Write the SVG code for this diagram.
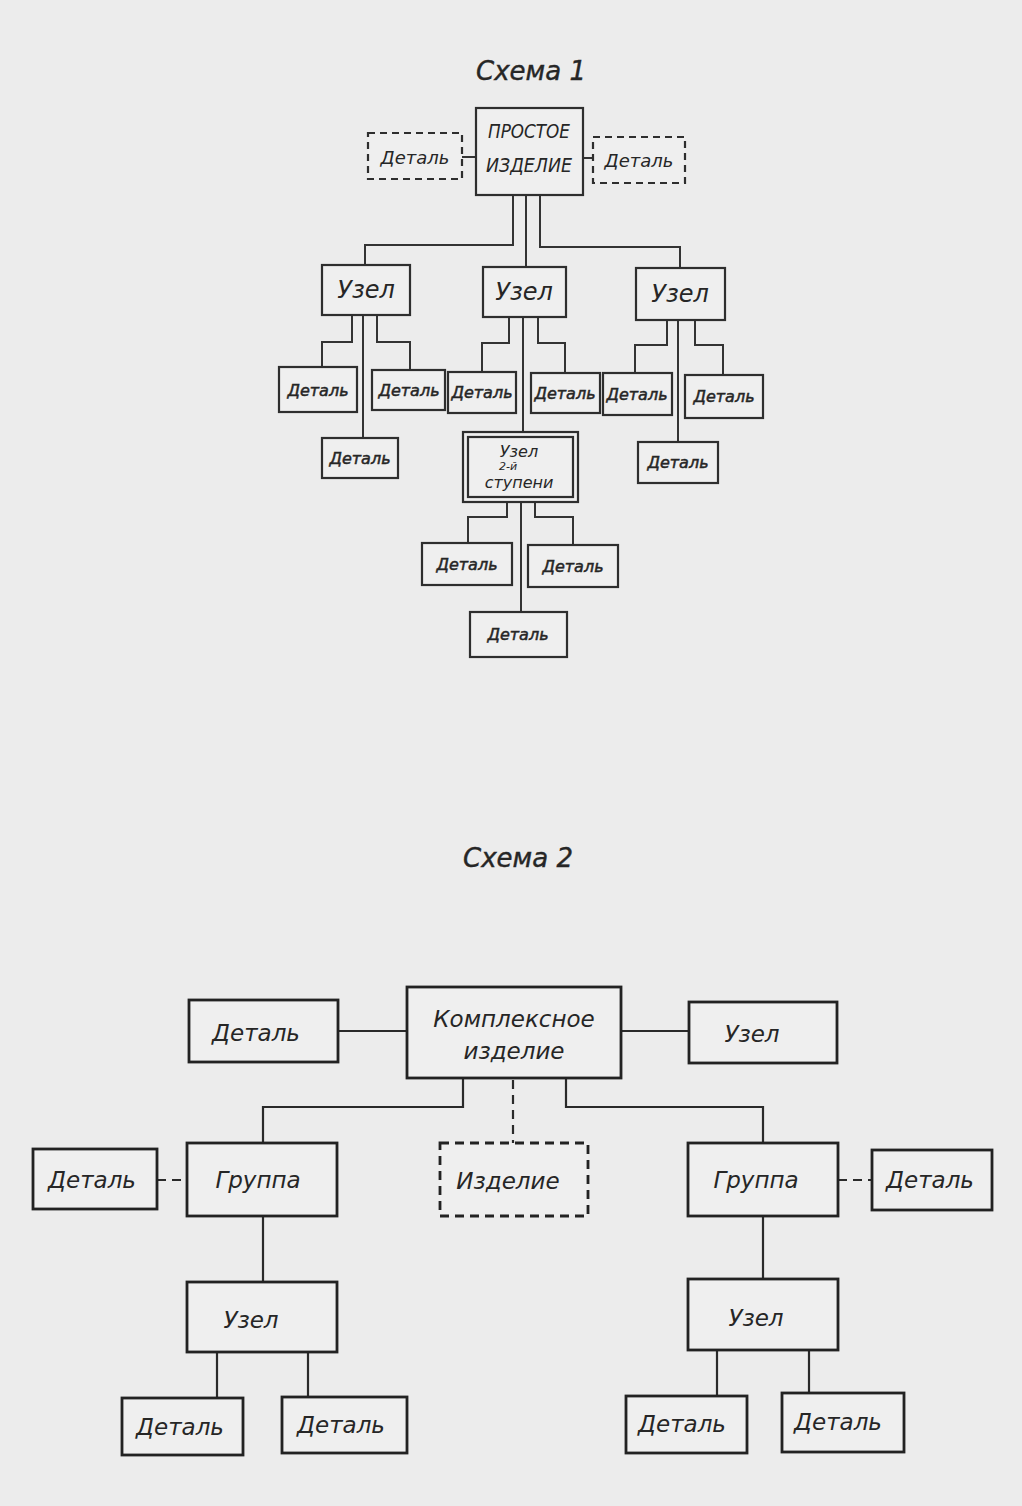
<svg xmlns="http://www.w3.org/2000/svg" width="1022" height="1506" viewBox="0 0 1022 1506">
<style>
.bg{fill:#ececec}
.b1{fill:#efefef;stroke:#2e2e2e;stroke-width:2.2}
.b2{fill:#efefef;stroke:#222;stroke-width:2.8}
.dash1{stroke-dasharray:7 5}
.dash2{stroke-dasharray:9 6}
.c1{fill:none;stroke:#333;stroke-width:2}
.c2{fill:none;stroke:#2a2a2a;stroke-width:2.2}
text{font-family:"DejaVu Sans","Liberation Sans",sans-serif;font-style:italic;fill:#262626;text-anchor:middle;dominant-baseline:central}
.t{font-size:26px;stroke:#262626;stroke-width:0.4}
.s1{font-size:16px;stroke:#262626;stroke-width:0.5}
.s1b{font-size:18px}
.u1{font-size:24px}
.s2{font-size:23px}
</style>
<rect class="bg" x="0" y="0" width="1022" height="1506"/>
<text class="t" x="531" y="71">Схема 1</text>
<text class="t" x="518" y="858">Схема 2</text>
<g id="connectors">
<path class="c1" d="M462,157 H476 M583,158 H593"/>
<path class="c1" d="M513,195 V245 H365 V265 M526,195 V267 M540,195 V247 H680 V268"/>
<path class="c1" d="M352,315 V342 H322 V367 M377,315 V342 H410 V370 M363,315 V438"/>
<path class="c1" d="M509,317 V343 H482 V372 M538,317 V343 H565 V373 M523,317 V432"/>
<path class="c1" d="M667,320 V345 H635 V373 M695,320 V345 H723 V375 M678,320 V442"/>
<path class="c1" d="M507,502 V517 H468 V543 M535,502 V517 H573 V545 M521,502 V612"/>
<path class="c2" d="M338,1031 H407 M621,1031 H689"/>
<path class="c2" d="M463,1078 V1107 H263 V1143 M566,1078 V1107 H763 V1143"/>
<path class="c2 dash2" d="M513,1080 V1143"/>
<path class="c2 dash2" d="M157,1180 H187 M838,1180 H872"/>
<path class="c2" d="M263,1216 V1282 M217,1352 V1398 M308,1352 V1397"/>
<path class="c2" d="M763,1216 V1279 M717,1350 V1396 M809,1350 V1393"/>
</g>
<g id="s1_root"><rect class="b1" x="476" y="108" width="107" height="87"/><text x="529" y="131" font-size="19" textLength="82" lengthAdjust="spacingAndGlyphs">ПРОСТОЕ</text><text x="529" y="165" font-size="19" textLength="86" lengthAdjust="spacingAndGlyphs">ИЗДЕЛИЕ</text></g>
<g id="s1_det_dl"><rect class="b1 dash1" x="368" y="133" width="94" height="46"/><text class="s1b" x="415" y="157">Деталь</text></g>
<g id="s1_det_dr"><rect class="b1 dash1" x="593" y="137" width="92" height="46"/><text class="s1b" x="639" y="160">Деталь</text></g>
<g id="s1_uzel_l"><rect class="b1" x="322" y="265" width="88" height="50"/><text class="u1" x="366" y="290">Узел</text></g>
<g id="s1_uzel_m"><rect class="b1" x="483" y="267" width="83" height="50"/><text class="u1" x="524" y="292">Узел</text></g>
<g id="s1_uzel_r"><rect class="b1" x="636" y="268" width="89" height="52"/><text class="u1" x="680" y="294">Узел</text></g>
<g id="s1_det1"><rect class="b1" x="279" y="367" width="78" height="45"/><text class="s1" x="318" y="390">Деталь</text></g>
<g id="s1_det2"><rect class="b1" x="372" y="370" width="73" height="40"/><text class="s1" x="409" y="390">Деталь</text></g>
<g id="s1_det3"><rect class="b1" x="322" y="438" width="76" height="40"/><text class="s1" x="360" y="458">Деталь</text></g>
<g id="s1_det4"><rect class="b1" x="448" y="372" width="68" height="41"/><text class="s1" x="482" y="392">Деталь</text></g>
<g id="s1_det5"><rect class="b1" x="531" y="373" width="69" height="40"/><text class="s1" x="565" y="393">Деталь</text></g>
<g id="s1_det6"><rect class="b1" x="603" y="373" width="69" height="42"/><text class="s1" x="637" y="394">Деталь</text></g>
<g id="s1_det7"><rect class="b1" x="685" y="375" width="78" height="43"/><text class="s1" x="724" y="396">Деталь</text></g>
<g id="s1_det8"><rect class="b1" x="638" y="442" width="80" height="41"/><text class="s1" x="678" y="462">Деталь</text></g>
<g id="s1_uzel2"><rect class="b1" x="463" y="432" width="115" height="70"/><rect class="b1" x="468" y="437" width="105" height="60"/><text x="519" y="451" font-size="16">Узел</text><text x="508" y="466" font-size="11">2-й</text><text x="519" y="482" font-size="16">ступени</text></g>
<g id="s1_det9"><rect class="b1" x="422" y="543" width="90" height="42"/><text class="s1" x="467" y="564">Деталь</text></g>
<g id="s1_det10"><rect class="b1" x="528" y="545" width="90" height="42"/><text class="s1" x="573" y="566">Деталь</text></g>
<g id="s1_det11"><rect class="b1" x="470" y="612" width="97" height="45"/><text class="s1" x="518" y="634">Деталь</text></g>
<g id="s2_complex"><rect class="b2" x="407" y="987" width="214" height="91"/><text class="s2" x="514" y="1019">Комплексное</text><text class="s2" x="514" y="1051">изделие</text></g>
<g id="s2_det_top"><rect class="b2" x="189" y="1000" width="149" height="62"/><text class="s2" x="256" y="1033">Деталь</text></g>
<g id="s2_uzel_top"><rect class="b2" x="689" y="1002" width="148" height="61"/><text class="s2" x="752" y="1034">Узел</text></g>
<g id="s2_group_l"><rect class="b2" x="187" y="1143" width="150" height="73"/><text class="s2" x="258" y="1180">Группа</text></g>
<g id="s2_izdelie"><rect class="b2 dash2" x="440" y="1143" width="148" height="73"/><text class="s2" x="508" y="1181">Изделие</text></g>
<g id="s2_group_r"><rect class="b2" x="688" y="1143" width="150" height="73"/><text class="s2" x="756" y="1180">Группа</text></g>
<g id="s2_det_ll"><rect class="b2" x="33" y="1149" width="124" height="60"/><text class="s2" x="92" y="1180">Деталь</text></g>
<g id="s2_det_rr"><rect class="b2" x="872" y="1150" width="120" height="60"/><text class="s2" x="930" y="1180">Деталь</text></g>
<g id="s2_uzel_l"><rect class="b2" x="187" y="1282" width="150" height="70"/><text class="s2" x="251" y="1320">Узел</text></g>
<g id="s2_uzel_r"><rect class="b2" x="688" y="1279" width="150" height="71"/><text class="s2" x="756" y="1318">Узел</text></g>
<g id="s2_det_l1"><rect class="b2" x="122" y="1398" width="121" height="57"/><text class="s2" x="180" y="1427">Деталь</text></g>
<g id="s2_det_l2"><rect class="b2" x="282" y="1397" width="125" height="56"/><text class="s2" x="341" y="1425">Деталь</text></g>
<g id="s2_det_r1"><rect class="b2" x="626" y="1396" width="121" height="57"/><text class="s2" x="682" y="1424">Деталь</text></g>
<g id="s2_det_r2"><rect class="b2" x="782" y="1393" width="122" height="59"/><text class="s2" x="838" y="1422">Деталь</text></g>
</svg>
